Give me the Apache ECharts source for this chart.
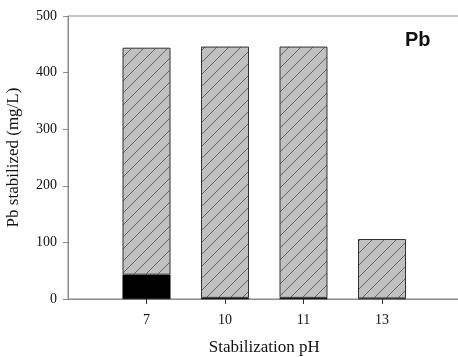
<!DOCTYPE html>
<html>
<head>
<meta charset="utf-8">
<script src="https://cdn.jsdelivr.net/npm/echarts@6/dist/echarts.min.js"></script>
<style>html,body{margin:0;padding:0;background:#fff}#c{width:458px;height:357px}</style>
</head>
<body>
<div id="c"></div>
<script>
var categories = ['7', '10', '11', '13'];
var blackValues = [43, 2, 2, 1];
var hatchValues = [401, 444, 444, 105];
var yTicks = [0, 100, 200, 300, 400, 500];

function hatch() {
  var s = 12, c = document.createElement('canvas');
  c.width = s; c.height = s;
  var g = c.getContext('2d');
  g.fillStyle = '#c0c0c0'; g.fillRect(0, 0, s, s);
  g.strokeStyle = '#5a5a5a'; g.lineWidth = 0.9;
  g.beginPath();
  g.moveTo(-1, s + 1); g.lineTo(s + 1, -1);
  g.moveTo(-1, 1); g.lineTo(1, -1);
  g.moveTo(s - 1, s + 1); g.lineTo(s + 1, s - 1);
  g.stroke();
  return c;
}

var axisData = [''].concat(categories).concat(['']);
function pad(arr) { return ['-'].concat(arr).concat(['-']); }

var chart = echarts.init(document.getElementById('c'), null, {renderer: 'canvas'});
var serif = 'Liberation Serif, Times New Roman, serif';
chart.setOption({
  animation: false,
  grid: {left: 68, top: 16, width: 392.5, height: 283, show: true, borderColor: '#8a8a8a', borderWidth: 1,
    containLabel: false, outerBoundsMode: 'none'},
  xAxis: {
    type: 'category', data: axisData, boundaryGap: false,
    axisLine: {lineStyle: {color: '#8a8a8a', width: 1}},
    axisTick: {length: 5, lineStyle: {color: '#333'}, interval: function (i, v) { return v !== ''; }},
    axisLabel: {interval: 0, fontFamily: serif, fontSize: 14, color: '#111', margin: 14},
    name: 'Stabilization pH', nameLocation: 'middle', nameGap: 40,
    nameTextStyle: {fontFamily: serif, fontSize: 17, color: '#111'}
  },
  yAxis: {
    type: 'value', min: 0, max: 500, interval: 100,
    splitLine: {show: false},
    axisLine: {show: true, lineStyle: {color: '#8a8a8a', width: 1}},
    axisTick: {show: true, length: 5, lineStyle: {color: '#8a8a8a'}},
    axisLabel: {fontFamily: serif, fontSize: 14, color: '#111', margin: 11,
      formatter: function (v) { return yTicks.indexOf(v) >= 0 ? String(v) : ''; }},
    name: 'Pb stabilized (mg/L)', nameLocation: 'middle', nameGap: 46,
    nameTextStyle: {fontFamily: serif, fontSize: 17, color: '#111'}
  },
  graphic: [{type: 'text', left: 405, top: 30, style: {text: 'Pb', font: 'bold 20px Liberation Sans, Arial, sans-serif', fill: '#111'}}],
  series: [
    {type: 'bar', stack: 'a', barWidth: 48, data: pad(blackValues),
      itemStyle: {color: '#000', borderColor: '#000', borderWidth: 0.5}},
    {type: 'bar', stack: 'a', barWidth: 48, data: pad(hatchValues),
      itemStyle: {color: {image: hatch(), repeat: 'repeat'}, borderColor: '#333', borderWidth: 1}}
  ]
});
</script>
</body>
</html>
